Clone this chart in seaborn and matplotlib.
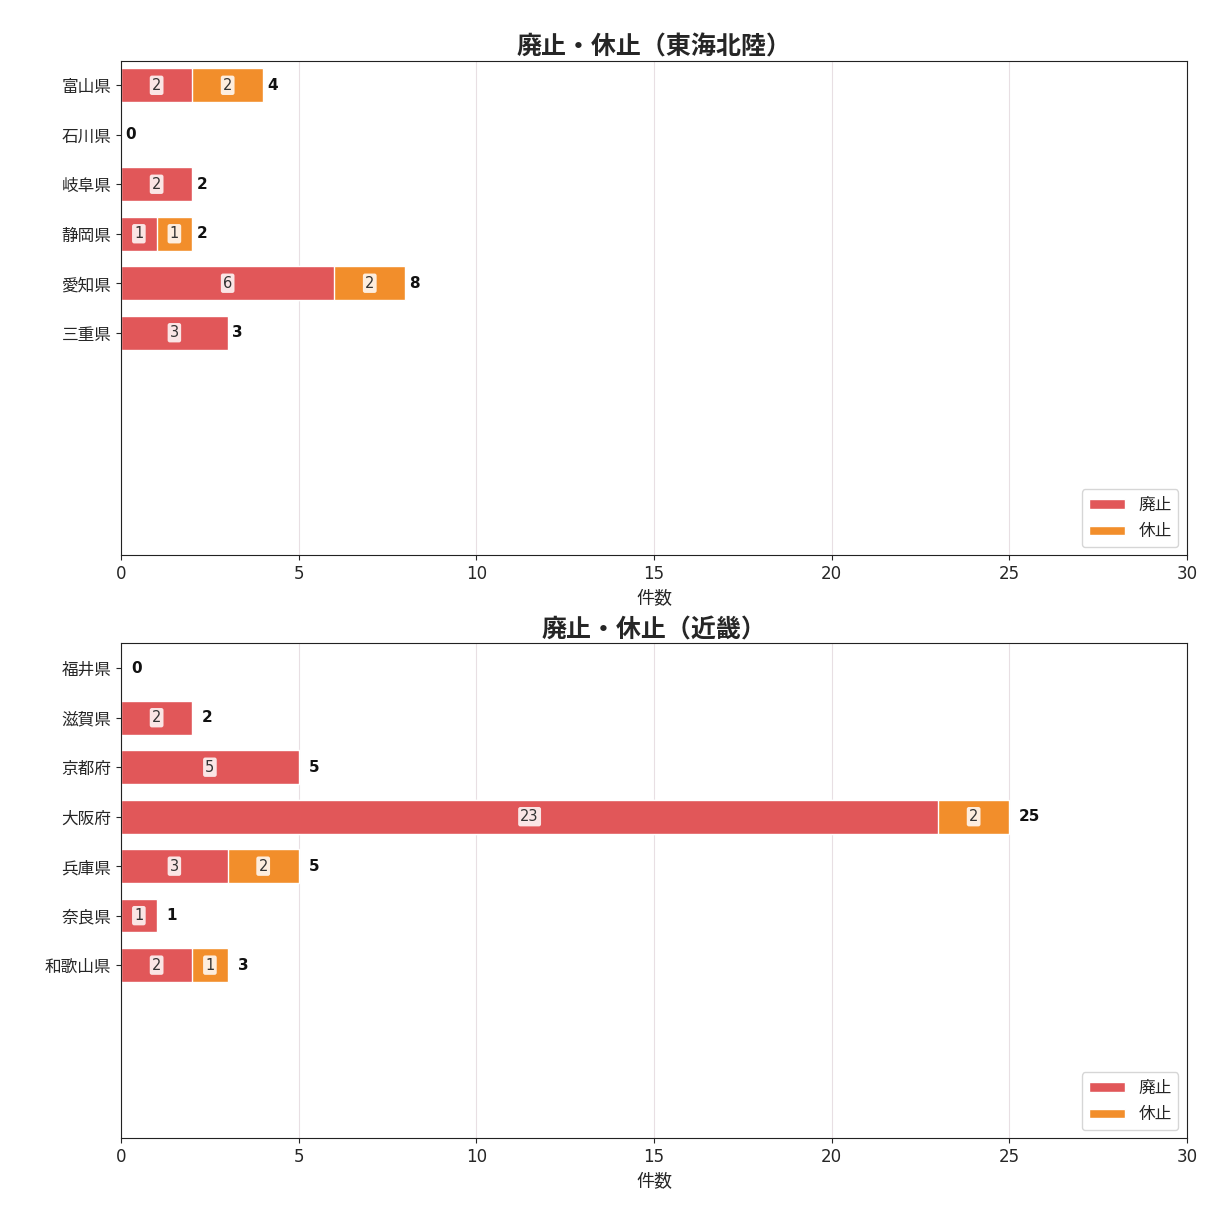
import numpy as np
import pandas as pd
import seaborn as sns
import matplotlib.pyplot as plt
from matplotlib.patches import Patch

# data
tokai_pref = ['富山県', '石川県', '岐阜県', '静岡県', '愛知県', '三重県']
tokai_haishi = [2, 0, 2, 1, 6, 3]
tokai_kyushi = [2, 0, 0, 1, 2, 0]

kinki_pref = ['福井県', '滋賀県', '京都府', '大阪府', '兵庫県', '奈良県', '和歌山県']
kinki_haishi = [0, 2, 5, 23, 3, 1, 2]
kinki_kyushi = [0, 0, 0, 2, 2, 0, 1]

region_titles = ['廃止・休止（東海北陸）', '廃止・休止（近畿）']

RED = '#E15759'
ORANGE = '#F28E2B'

sns.set_style('ticks')
plt.rcParams['font.family'] = ['DejaVu Sans', 'Noto Sans CJK JP']


def draw_region(ax, prefs, haishi, kyushi, title, offset):
    df = pd.DataFrame({'pref': prefs, '廃止': haishi, '休止': kyushi})
    df['total'] = df['廃止'] + df['休止']

    # orange = total, red drawn over it -> stacked look
    sns.barplot(data=df, y='pref', x='total', color=ORANGE, saturation=1,
                width=0.68, edgecolor='white', linewidth=1, ax=ax)
    sns.barplot(data=df, y='pref', x='廃止', color=RED, saturation=1,
                width=0.68, edgecolor='white', linewidth=1, ax=ax)

    box = dict(boxstyle='round,pad=0.15', facecolor='white', edgecolor='none', alpha=0.85)
    for i, row in df.iterrows():
        if row['廃止'] > 0:
            ax.text(row['廃止'] / 2, i, str(row['廃止']), ha='center', va='center',
                    fontsize=10.5, color='#333333', bbox=box)
        if row['休止'] > 0:
            ax.text(row['廃止'] + row['休止'] / 2, i, str(row['休止']), ha='center',
                    va='center', fontsize=10.5, color='#333333', bbox=box)
        ax.text(row['total'] + offset, i, str(row['total']), ha='left', va='center',
                fontsize=11, fontweight='bold', color='#111111')

    ax.set_xlim(0, 30)
    ax.set_xticks(np.arange(0, 31, 5))
    ax.set_ylim(9.5, -0.5)
    ax.set_ylabel('')
    ax.set_xlabel('件数', fontsize=13, labelpad=5)
    ax.set_title(title, fontsize=18, fontweight='bold', pad=4)
    ax.tick_params(axis='both', labelsize=12)
    ax.grid(axis='x', color='#e8dfe3', linewidth=0.8)
    ax.set_axisbelow(True)
    for s in ax.spines.values():
        s.set_visible(True)
        s.set_color('#222222')
    handles = [Patch(facecolor=RED, label='廃止'), Patch(facecolor=ORANGE, label='休止')]
    ax.legend(handles=handles, loc='lower right', fontsize=12, handlelength=2.2,
              handleheight=0.5)


fig, axes = plt.subplots(2, 1, figsize=(12.11, 12.11), dpi=100)
fig.subplots_adjust(left=0.1, right=0.98, top=0.95, bottom=0.06, hspace=0.178)

draw_region(axes[0], tokai_pref, tokai_haishi, tokai_kyushi, region_titles[0], 0.12)
draw_region(axes[1], kinki_pref, kinki_haishi, kinki_kyushi, region_titles[1], 0.28)

fig.savefig('out.png', dpi=100)
